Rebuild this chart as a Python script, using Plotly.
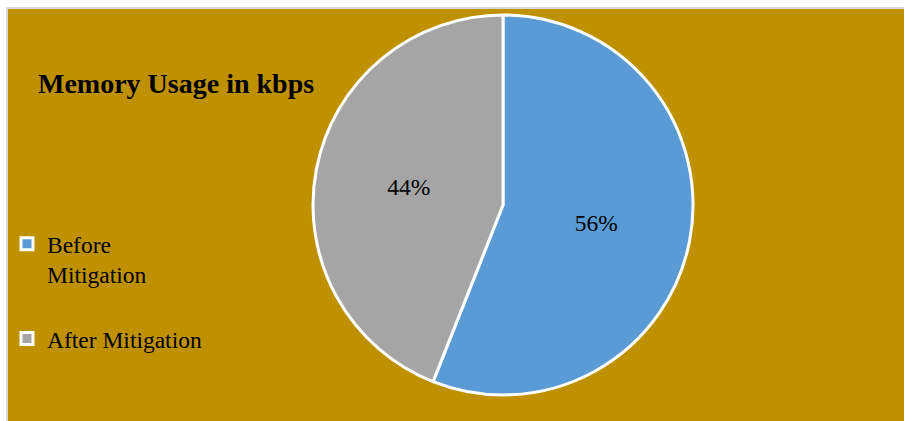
import plotly.graph_objects as go

labels = ["Before<br>Mitigation<br> ", "After Mitigation"]
values = [56, 44]
colors = ["#5B9BD5", "#A5A5A5"]
title_text = "Memory Usage in kbps"

W, H = 904, 421
ML, MT = 7, 8
PW, PH = W - ML, H - MT


def fx(px):  # page x -> paper fraction
    return (px - ML) / PW


def fy(py):  # page y -> paper fraction (from bottom)
    return (H - py) / PH


fig = go.Figure()
fig.add_trace(go.Pie(
    labels=labels,
    values=values,
    sort=False,
    direction="clockwise",
    rotation=0,
    marker=dict(colors=colors, line=dict(color="white", width=3)),
    texttemplate="%{percent:.0%}",
    textposition="inside",
    insidetextorientation="horizontal",
    textfont=dict(family="Liberation Serif", size=23.5, color="black"),
    domain=dict(x=[fx(313), fx(693)], y=[fy(395), fy(15)]),
    hoverinfo="label+percent",
))

fig.update_layout(
    width=W, height=H,
    margin=dict(l=ML, r=0, t=MT, b=0),
    paper_bgcolor="white",
    font=dict(family="Liberation Serif", color="black"),
    title=dict(text="<b>" + title_text + "</b>", x=fx(38), xanchor="left",
               xref="paper", y=fy(83), yanchor="middle", yref="paper",
               font=dict(family="Liberation Serif", size=28, color="black")),
    legend=dict(x=0.0, xanchor="left", y=fy(222), yanchor="top",
                valign="top", font=dict(family="Liberation Serif", size=23.5, color="black"),
                bgcolor="rgba(0,0,0,0)", itemclick=False),
    shapes=[dict(type="rect", xref="paper", yref="paper", x0=0, x1=1.01, y0=-0.01, y1=1,
                 fillcolor="#BF9000", line=dict(color="#D9D9D9", width=2), layer="below")],
)

fig.write_html(
    "out.html",
    config={"displayModeBar": False},
    post_script="document.body.style.margin='0';document.body.style.overflow='hidden';",
)
